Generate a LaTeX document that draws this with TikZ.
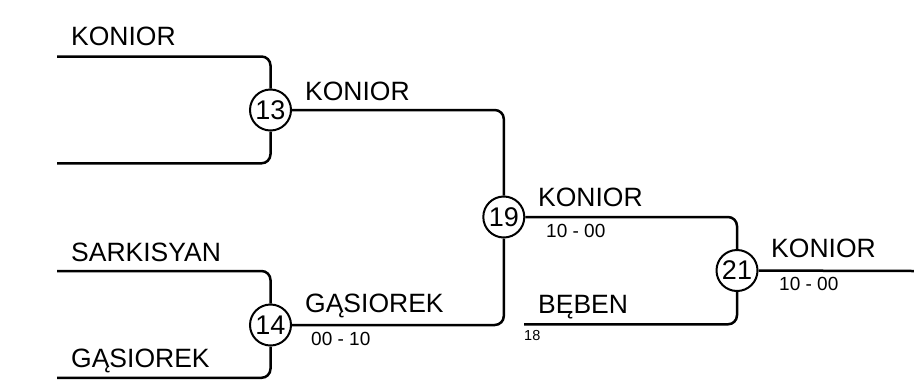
\documentclass[tikz,border=0pt]{standalone}
\usepackage{fontspec}
\setmainfont{Liberation Sans}
\tikzset{
  wire/.style={line width=2.5bp, rounded corners=9bp},
  match/.style={circle, draw, line width=2bp, minimum size=41bp, inner sep=0pt, fill=white,
    font=\fontsize{27bp}{30bp}\selectfont},
  plabel/.style={anchor=base west, inner sep=0pt, font=\fontsize{26.5bp}{30bp}\selectfont},
  score/.style={anchor=base west, inner sep=0pt, font=\fontsize{19bp}{22bp}\selectfont},
  seed/.style={anchor=base west, inner sep=0pt, font=\fontsize{14.5bp}{16bp}\selectfont}
}
\begin{document}
\begin{tikzpicture}[x=1bp, y=-1bp]
\useasboundingbox (0,0) rectangle (914,383);
% free ends
\coordinate (p1) at (57,56.5);
\coordinate (p2) at (57,163.3);
\coordinate (p3) at (57,271);
\coordinate (p4) at (57,377.8);
\coordinate (p18) at (524,324.3);
\coordinate (out) at (914,271);
% matches
\node[match] (m13) at (270.5,110) {13};
\node[match] (m14) at (270.5,325) {14};
\node[match] (m19) at (503.8,217) {19};
\node[match] (m21) at (737,270.5) {21};
% connectors
\draw[wire] (p1) -| (m13);
\draw[wire] (p2) -| (m13);
\draw[wire] (p3) -| (m14);
\draw[wire] (p4) -| (m14);
\draw[wire] (m13) -| (m19);
\draw[wire] (m14) -| (m19);
\draw[wire] (m19) -| (m21);
\draw[wire] (p18) -| (m21);
\draw[wire] (m21) -- (out);
% labels
\node[plabel] (t1) at (71,45.7) {KONIOR};
\node[plabel] (t2) at (71,261) {SARKISYAN};
\node[plabel] (t3) at (71,367.7) {GĄSIOREK};
\node[plabel] (t4) at (305,100) {KONIOR};
\node[plabel] (t5) at (305,312) {GĄSIOREK};
\node[score] (s5) at (311,345.7) {00 - 10};
\node[plabel] (t6) at (538,206.7) {KONIOR};
\node[score] (s6) at (546,237.7) {10 - 00};
\node[plabel] (t7) at (538,313) {BĘBEN};
\node[seed] (s7) at (524,340) {18};
\node[plabel] (t8) at (771,257.7) {KONIOR};
\node[score] (s8) at (779,290.5) {10 - 00};
\end{tikzpicture}
\end{document}
